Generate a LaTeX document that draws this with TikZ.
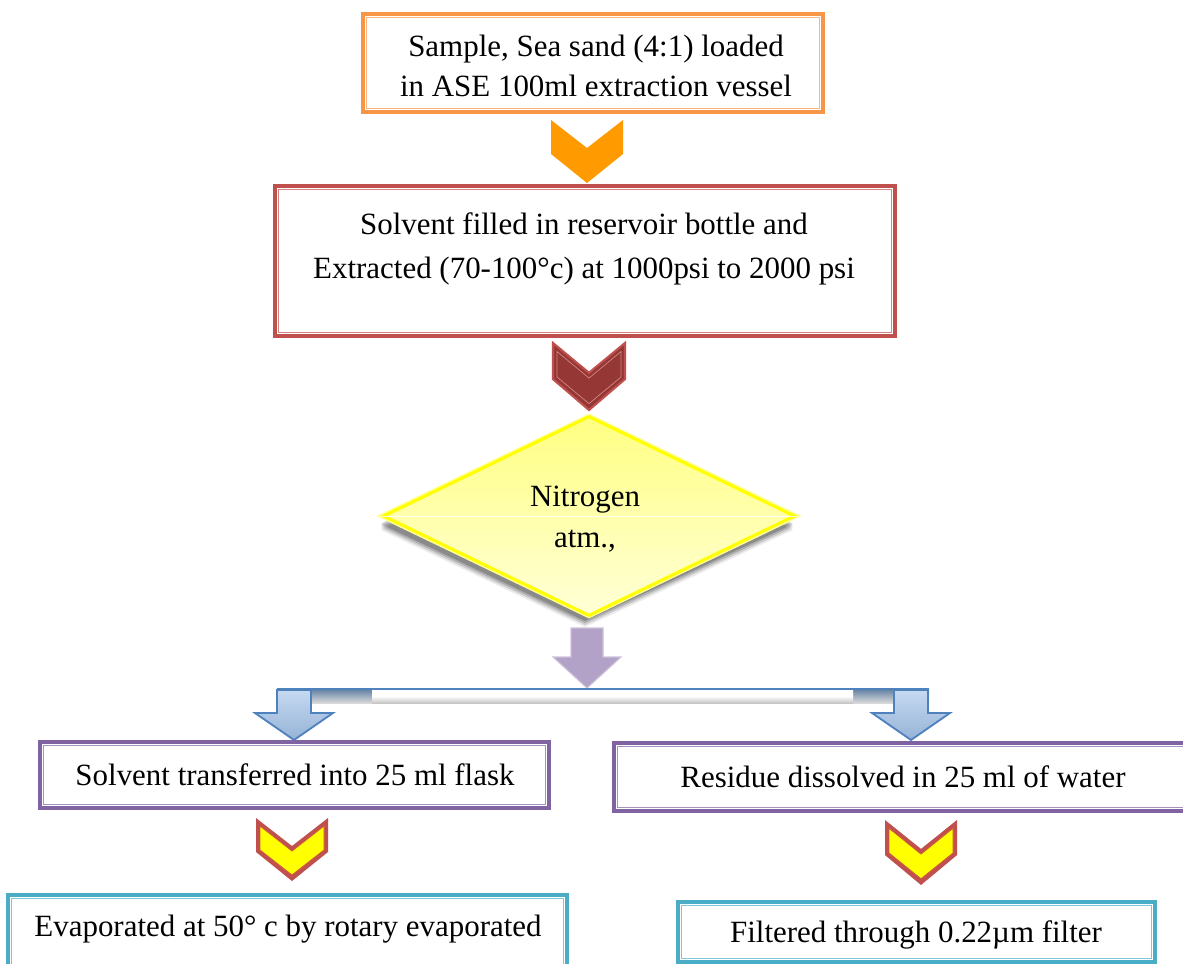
\documentclass[tikz,border=0pt]{standalone}
\usepackage{fontspec}
\setmainfont{Liberation Serif}
\usetikzlibrary{shapes.geometric,calc}

\definecolor{orgline}{HTML}{F79646}
\definecolor{orgfill}{HTML}{FF9A00}
\definecolor{redline}{HTML}{C0504D}
\definecolor{redfill}{HTML}{953735}
\definecolor{purline}{HTML}{8064A2}
\definecolor{purfill}{HTML}{B3A2C7}
\definecolor{purlight}{HTML}{CCC1DA}
\definecolor{tealline}{HTML}{4BACC6}
\definecolor{blueline}{HTML}{4F81BD}
\definecolor{bluefill}{HTML}{95B3D7}
\definecolor{bluelight}{HTML}{C6D9F1}
\definecolor{diamline}{HTML}{FFFF00}
\definecolor{chevyel}{HTML}{FFFF00}

\tikzset{
  box/.style={draw=#1, line width=2.2pt, fill=white, inner sep=0pt, rectangle},
  innerline/.style={draw=#1!70, line width=0.6pt},
  txt/.style={font=\fontsize{22}{28}\selectfont, align=center, inner sep=0pt},
  chevron/.pic={\path[pic actions] (-36,0) -- (0,28) -- (36,0) -- (36,34) -- (0,63) -- (-36,34) -- cycle;},
  chevin/.pic={\path[pic actions] (-32,8) -- (0,33) -- (32,8) -- (32,32) -- (0,57) -- (-32,32) -- cycle;},
}

% box: name, colour, left, top, right, bottom (pixel units)
\newcommand\drawbox[6]{%
  \node[box=#2, minimum width={(#5-#3)*0.025cm}, minimum height={(#6-#4)*0.025cm}]
       (#1) at ({(#3+#5)/2},{(#4+#6)/2}) {};
  \draw[innerline=#2] ($(#1.north west)+(5,5)$) rectangle ($(#1.south east)+(-5,-5)$);
}

\begin{document}
\begin{tikzpicture}[x=0.025cm,y=-0.025cm]
\useasboundingbox (0,0) rectangle (1183,964);

% ---- step 1
\drawbox{b1}{orgline}{363}{14}{823}{112}
\node[txt, font=\fontsize{22}{28}\selectfont] (t1) at (596,66) {Sample, Sea sand (4:1) loaded\\in ASE 100ml extraction vessel};

\pic[fill=orgfill] at (587,120) {chevron};

% ---- step 2
\drawbox{b2}{redline}{275}{186}{895}{336}
\node[txt, font=\fontsize{22}{31}\selectfont] (t2) at (584,249) {Solvent filled in reservoir bottle and\\Extracted (70-100°c) at 1000psi to 2000 psi};

\pic[fill=redfill, draw=redline, line width=1.5pt, yscale=67/63] at (589,343) {chevron};
\pic[draw=redline!70, line width=0.5pt, yscale=67/63] at (589,343) {chevin};

% ---- decision diamond with soft shadow
\foreach \o/\a in {12/0.08,10/0.12,8/0.16,6/0.2} {
  \fill[black, opacity=\a] (587-2,415+\o) -- (795-2,518+\o) -- (587-2,615+\o) -- (383-2,518+\o) -- cycle;
}
\node[diamond, inner sep=0pt, minimum width=412*0.025cm, minimum height=200*0.025cm,
      draw=diamline!40, line width=5pt] (dm) at (589,516) {};
\node[diamond, inner sep=0pt, minimum width=412*0.025cm, minimum height=200*0.025cm,
      draw=diamline, line width=2.2pt, top color={rgb,255:red,255;green,255;blue,130},
      bottom color={rgb,255:red,255;green,255;blue,215}] (d) at (589,516) {};
\draw[white, line width=0.6pt, opacity=0.8] (d.west) -- (d.east);
\node[txt, font=\fontsize{22}{29}\selectfont] (td) at (585,519) {Nitrogen\\atm.,};

% ---- purple block arrow
\path[fill=purfill, draw=purlight, line width=0.8pt]
  (571,628) -- (603,628) -- (603,657) -- (621,657) -- (587,688) -- (553,657) -- (571,657) -- cycle;
\coordinate (split) at (587,688);

% ---- splitting bar
\shade[top color=blueline!60!gray, bottom color=gray!30] (277,689) rectangle (372,703);
\shade[top color=blueline!60!gray, bottom color=gray!30] (853,689) rectangle (929,703);
\shade[top color=white, bottom color=gray!45, middle color=white] (372,689) rectangle (853,703);
\draw[blueline, line width=1.2pt] (277,689) -- (929,689);
\coordinate (barL) at (294,689);
\coordinate (barR) at (911,689);

% ---- blue block arrows
\foreach \c/\n in {294/aL,911/aR} {
  \path[top color=bluelight, bottom color=bluefill, draw=blueline, line width=1.3pt]
    (\c-17,690) -- (\c+17,690) -- (\c+17,713) -- (\c+39,713) -- (\c,740) -- (\c-39,713) -- (\c-17,713) -- cycle;
  \coordinate (\n) at (\c,740);
}

% ---- left branch
\drawbox{b3}{purline}{40}{742}{549}{808}
\node[txt] (t3) at (295,775) {Solvent transferred into 25 ml flask};

\pic[fill=redline] at (292,818) {chevron};
\pic[fill=chevyel, draw=redline!80!orange, line width=0.6pt] at (292,818) {chevin};

\drawbox{b5}{tealline}{8}{895}{567}{990}
\node[txt] (t5) at (288,929) {Evaporated at 50° c by rotary evaporated};

% ---- right branch
\drawbox{b4}{purline}{614}{743}{1200}{811}
\node[txt] (t4) at (903,777) {Residue dissolved in 25 ml of water};

\pic[fill=redline, yscale=65/63] at (921,820) {chevron};
\pic[fill=chevyel, draw=redline!80!orange, line width=0.6pt, yscale=65/63] at (921,820) {chevin};

\drawbox{b6}{tealline}{678}{902}{1155}{962}
\node[txt] (t6) at (916,935) {Filtered through 0.22µm filter};
\end{tikzpicture}
\end{document}
